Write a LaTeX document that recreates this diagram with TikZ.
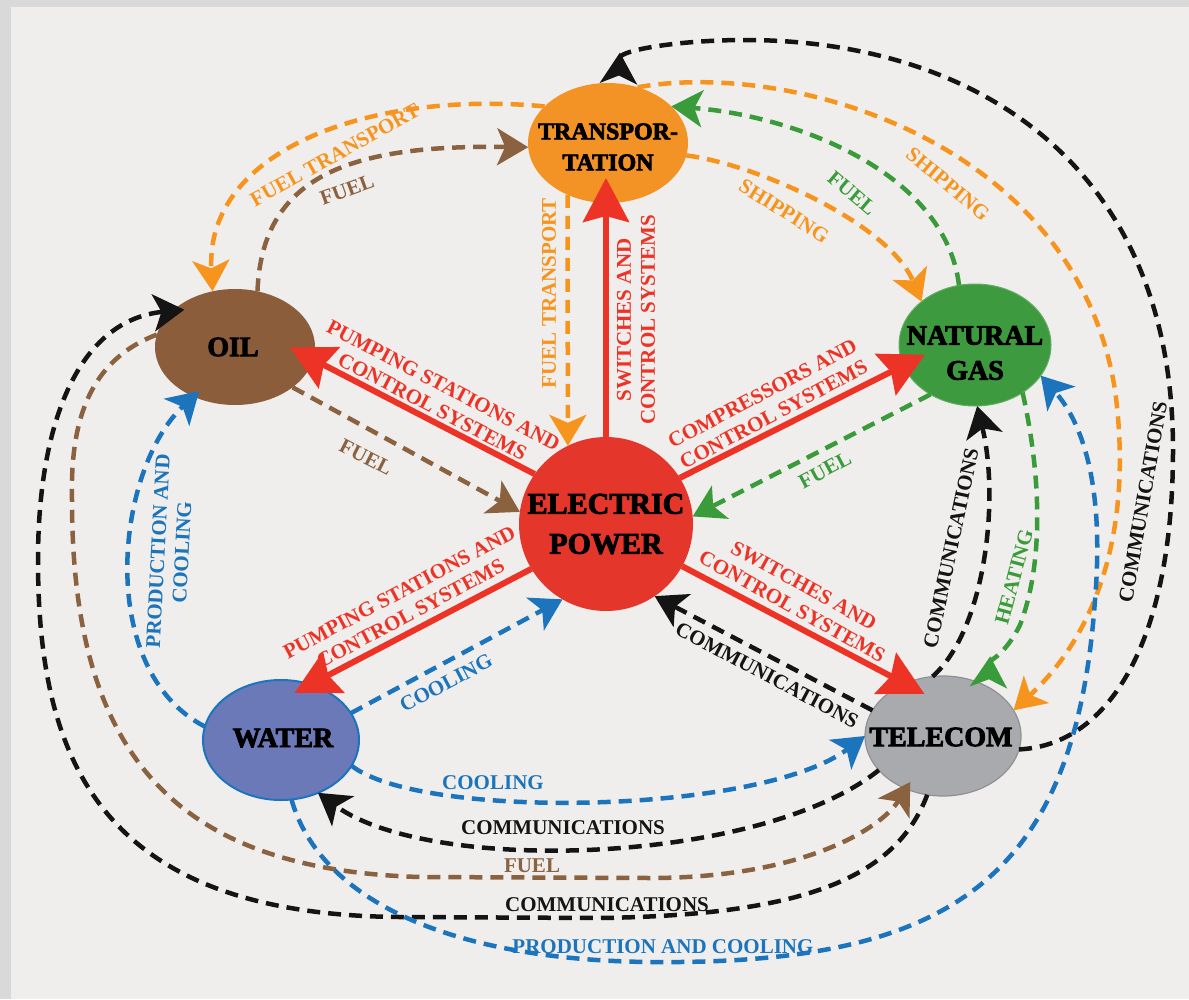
\documentclass[tikz,border=0pt]{standalone}
\usepackage{fontspec}
\setmainfont{Liberation Serif}
\newfontfamily\heavyfont{Liberation Serif Bold}[FakeBold=3]
\usetikzlibrary{arrows.meta,shapes.geometric}

\definecolor{bgpanel}{HTML}{F0EEEC}
\definecolor{bgframe}{HTML}{D9D9D9}
\definecolor{corange}{HTML}{F7941D}
\definecolor{cbrown}{HTML}{8B6240}
\definecolor{cgreen}{HTML}{3A9B3A}
\definecolor{cblue}{HTML}{1C75BC}
\definecolor{cred}{HTML}{EC3326}
\definecolor{cblack}{HTML}{141414}
\definecolor{fillT}{HTML}{F39325}
\definecolor{fillO}{HTML}{8B5D3A}
\definecolor{fillG}{HTML}{3D9A3F}
\definecolor{fillP}{HTML}{E5362B}
\definecolor{fillW}{HTML}{6B79B8}
\definecolor{fillC}{HTML}{A8AAAD}

\tikzset{
  sector/.style={ellipse, inner sep=0pt, outer sep=0pt},
  nodetext/.style={inner sep=0pt, align=center, text=black,
    font=\heavyfont\fontsize{28}{35}\selectfont},
  elabel/.style={inner sep=0pt, align=center, text=cblack,
    font=\bfseries\fontsize{21}{24}\selectfont},
  dashflow/.style={line width=4.5pt, dash pattern=on 13pt off 8pt,
    -{Stealth[length=31pt,width=37pt,inset=8pt]}},
  revtip/.style={-{Stealth[reversed,length=31pt,width=37pt,inset=8pt]}},
  redflow/.style={draw=cred, line width=6pt,
    -{Stealth[length=44pt,width=46pt,inset=6pt]}}
}

\begin{document}
\begin{tikzpicture}[x=1pt,y=-1pt]
% panel
\fill[bgframe] (0,0) rectangle (1189,999);
\fill[bgpanel] (11,7) rectangle (1189,999);
\useasboundingbox (0,0) rectangle (1189,999);

% sectors
\node[sector, fill=fillT, minimum width=160pt, minimum height=120pt] (T) at (608,143) {};
\node[sector, fill=fillO, minimum width=160pt, minimum height=116pt] (O) at (235,347) {};
\node[sector, fill=fillG, draw=fillG!80!white, line width=1pt, minimum width=152pt, minimum height=122pt] (G) at (975,345) {};
\node[circle, inner sep=0pt, outer sep=0pt, fill=fillP, minimum size=174pt] (P) at (606,524) {};
\node[sector, fill=fillW, draw=cblue, line width=2pt, minimum width=156pt, minimum height=120pt] (W) at (281,740) {};
\node[sector, fill=fillC, draw=fillC!85!black, line width=1.2pt, minimum width=156pt, minimum height=120pt] (C) at (943,736) {};

\node[nodetext, font=\heavyfont\fontsize{24}{31}\selectfont] (Tt) at (608,147) {TRANSPOR-\\TATION};
\node[nodetext] (Ot) at (233,347) {OIL};
\node[nodetext] (Gt) at (975,353) {NATURAL\\GAS};
\node[nodetext, font=\heavyfont\fontsize{30}{40}\selectfont] (Pt) at (606,524) {ELECTRIC\\POWER};
\node[nodetext] (Wt) at (283,738) {WATER};
\node[nodetext] (Ct) at (941,737) {TELECOM};

% electric power links
\draw[redflow, shorten >=-25pt] (P.north) -- (P.north |- T.south);
\draw[redflow, shorten >=-26pt] (P.145) -- (O.351);
\draw[redflow, shorten >=-24pt] (P.32) -- (G.196);
\draw[redflow, shorten >=-18pt] (P.211) -- (W.62);
\draw[redflow, shorten >=-22pt] (P.331) -- (C.126);
\node[elabel, text=cred, rotate=90] (lR5) at (636,320) {SWITCHES AND\\CONTROL SYSTEMS};
\node[elabel, text=cred, rotate=-27.5] (lR1) at (438,396) {PUMPING STATIONS AND\\CONTROL SYSTEMS};
\node[elabel, text=cred, rotate=28] (lR2) at (768,404) {COMPRESSORS AND\\CONTROL SYSTEMS};
\node[elabel, text=cred, rotate=28] (lR3) at (405,603) {PUMPING STATIONS AND\\CONTROL SYSTEMS};
\node[elabel, text=cred, rotate=-29] (lR4) at (798,596) {SWITCHES AND\\CONTROL SYSTEMS};

% transportation links
\draw[dashflow, corange] (T.150) .. controls (370,90) and (205,150) .. (O.112);
\node[elabel, text=corange, rotate=29] (lFT1) at (335,155) {FUEL TRANSPORT};
\draw[dashflow, corange] (T.232) -- (P.116);
\node[elabel, text=corange, rotate=90] (lFT2) at (549,293) {FUEL TRANSPORT};
\draw[dashflow, corange] (T.351) .. controls (760,165) and (890,225) .. (G.141);
\node[elabel, text=corange, rotate=-32] (lSH1) at (784,211) {SHIPPING};
\draw[dashflow, corange] (T.62) .. controls (790,60) and (1075,140) .. (1115,390)
  .. controls (1135,540) and (1090,640) .. (C.20);
\node[elabel, text=corange, rotate=-40] (lSH2) at (948,184) {SHIPPING};

% oil links
\draw[dashflow, cbrown] (O.68) .. controls (262,170) and (360,145) .. (T.183);
\node[elabel, text=cbrown, rotate=20] (lF1) at (347,190) {FUEL};
\draw[dashflow, cbrown] (O.325) -- (P.172);
\node[elabel, text=cbrown, rotate=-27] (lF2) at (366,457) {FUEL};
\draw[dashflow, cbrown, shorten >=-8pt] (O.171) .. controls (90,360) and (70,420) .. (72,500)
  .. controls (72,760) and (180,870) .. (420,877) -- (650,878)
  .. controls (800,878) and (880,830) .. (C.235);
\node[elabel, text=cbrown] (lF3) at (532,866) {FUEL};

% natural gas links
\draw[dashflow, cgreen] (G.105) .. controls (945,170) and (790,115) .. (T.30);
\node[elabel, text=cgreen, rotate=-40] (lF4) at (852,193) {FUEL};
\draw[dashflow, cgreen] (G.228) -- (P.5);
\node[elabel, text=cgreen, rotate=28] (lF5) at (825,470) {FUEL};
\draw[dashflow, cgreen, revtip] (G.315) .. controls (1040,470) and (1045,560) .. (1020,625)
  .. controls (1005,655) and (990,660) .. (C.47);
\node[elabel, text=cgreen, rotate=75] (lH) at (1014,577) {HEATING};

% telecom links
\draw[dashflow, cblack, revtip] (C.350) .. controls (1110,745) and (1173,640) .. (1173,450)
  .. controls (1173,160) and (970,40) .. (745,40)
  .. controls (680,40) and (620,50) .. (T.80);
\node[elabel, rotate=80] (lC1) at (1143,502) {COMMUNICATIONS};
\draw[dashflow, cblack] (C.100) .. controls (985,630) and (1000,500) .. (G.272);
\node[elabel, rotate=78] (lC2) at (951,548) {COMMUNICATIONS};
\draw[dashflow, cblack] (C.160) -- (P.304);
\node[elabel, rotate=-28] (lC3) at (767,675) {COMMUNICATIONS};
\draw[dashflow, cblack] (C.208) .. controls (760,865) and (430,875) .. (W.305);
\node[elabel] (lC4) at (563,828) {COMMUNICATIONS};
\draw[dashflow, cblack, shorten >=-12pt] (C.255) .. controls (895,880) and (800,915) .. (600,918)
  -- (400,917) .. controls (100,915) and (38,760) .. (38,560)
  .. controls (38,420) and (80,320) .. (O.150);
\node[elabel] (lC5) at (607,905) {COMMUNICATIONS};

% water links
\draw[dashflow, cblue, shorten >=-8pt] (W.170) .. controls (95,670) and (115,470) .. (O.230);
\node[elabel, text=cblue, rotate=87] (lPC1) at (170,552) {PRODUCTION AND\\COOLING};
\draw[dashflow, cblue] (W.21) -- (P.240);
\node[elabel, text=cblue, rotate=28] (lCo1) at (446,683) {COOLING};
\draw[dashflow, cblue] (W.340) .. controls (420,820) and (760,815) .. (C.180);
\node[elabel, text=cblue] (lCo2) at (493,783) {COOLING};
\draw[dashflow, cblue] (W.280) .. controls (320,900) and (450,960) .. (650,962)
  .. controls (950,965) and (1075,880) .. (1095,600)
  .. controls (1105,480) and (1080,420) .. (G.335);
\node[elabel, text=cblue] (lPC2) at (663,947) {PRODUCTION AND COOLING};
\end{tikzpicture}
\end{document}
